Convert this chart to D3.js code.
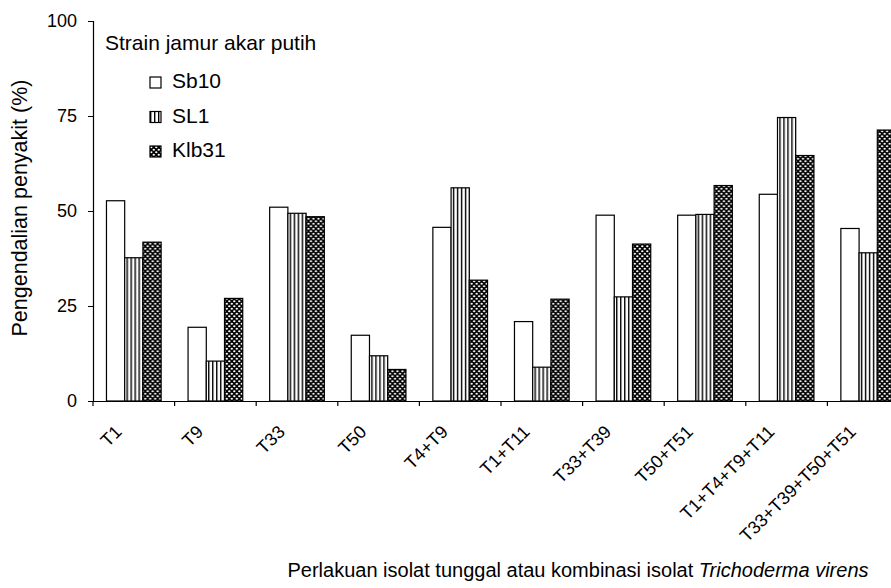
<!DOCTYPE html>
<html>
<head>
<meta charset="utf-8">
<script src="https://cdn.jsdelivr.net/npm/d3@7"></script>
<style>
  body { margin: 0; background: #fff; }
  text { font-family: "Liberation Sans", Arial, sans-serif; fill: #000; }
</style>
</head>
<body>
<div id="chart"></div>
<script>
/// Data
var treatments = ["T1", "T9", "T33", "T50", "T4+T9", "T1+T11", "T33+T39", "T50+T51", "T1+T4+T9+T11", "T33+T39+T50+T51"];
var strains = ["Sb10", "SL1", "Klb31"];
var sb10 = [52.7, 19.4, 51.0, 17.3, 45.7, 20.9, 48.9, 48.9, 54.4, 45.4];
var sl1 = [37.7, 10.5, 49.4, 11.9, 56.1, 8.9, 27.4, 49.1, 74.6, 39.0];
var klb31 = [41.8, 27.0, 48.5, 8.3, 31.8, 26.8, 41.3, 56.7, 64.6, 71.3];
var yTicks = [0, 25, 50, 75, 100];

/// SVG wrapper
var svgWidth = 891;
var svgHeight = 588;

var svg = d3.select("#chart")
    .append("svg")
    .attr("width", svgWidth)
    .attr("height", svgHeight);

/// Fill patterns
var defs = svg.append("defs");

var stripes = defs.append("pattern")
    .attr("id", "stripes")
    .attr("patternUnits", "userSpaceOnUse")
    .attr("width", 4)
    .attr("height", 4);
stripes.append("rect").attr("width", 4).attr("height", 4).attr("fill", "#fff");
stripes.append("rect").attr("x", 0).attr("width", 1.4).attr("height", 4).attr("fill", "#000");

var dots = defs.append("pattern")
    .attr("id", "dots")
    .attr("patternUnits", "userSpaceOnUse")
    .attr("width", 5)
    .attr("height", 5);
dots.append("rect").attr("width", 5).attr("height", 5).attr("fill", "#000");
dots.append("ellipse").attr("cx", 1.25).attr("cy", 1.25).attr("rx", 1.2).attr("ry", 0.9).attr("fill", "#fff");
dots.append("ellipse").attr("cx", 3.75).attr("cy", 3.75).attr("rx", 1.2).attr("ry", 0.9).attr("fill", "#fff");

var fills = {"Sb10": "#fff", "SL1": "url(#stripes)", "Klb31": "url(#dots)"};

/// Scales
var x0 = 93;
var step = 81.6;
var xScale = d3.scaleBand()
    .domain(treatments)
    .range([x0, x0 + step * treatments.length])
    .paddingInner(0.33)
    .paddingOuter(0.165);

var xSub = d3.scaleBand()
    .domain(strains)
    .range([0, xScale.bandwidth()]);

var yScale = d3.scaleLinear()
    .domain([0, 100])
    .range([401, 21]);

/// Bars
var rows = treatments.map(function(t, i) {
    return {treatment: t, values: [
        {strain: "Sb10", value: sb10[i]},
        {strain: "SL1", value: sl1[i]},
        {strain: "Klb31", value: klb31[i]}
    ]};
});

var groups = svg.selectAll(".group")
    .data(rows)
    .enter()
    .append("g")
    .attr("class", "group")
    .attr("transform", d => `translate(${xScale(d.treatment)}, 0)`);

groups.selectAll("rect")
    .data(d => d.values)
    .enter()
    .append("rect")
    .attr("x", d => xSub(d.strain))
    .attr("y", d => yScale(d.value))
    .attr("width", xSub.bandwidth())
    .attr("height", d => yScale(0) - yScale(d.value))
    .attr("fill", d => fills[d.strain])
    .attr("stroke", "#000")
    .attr("stroke-width", 1.2);

/// Y axis
var leftAxis = d3.axisLeft(yScale)
    .tickValues(yTicks)
    .tickSize(5)
    .tickPadding(11);

var yAxis = svg.append("g")
    .attr("transform", `translate(${x0}, 0)`)
    .call(leftAxis);
yAxis.select(".domain").attr("stroke", "#000").attr("stroke-width", 1.2);
yAxis.selectAll("text").style("font-size", "18px");

/// X axis
var bottomAxis = d3.axisBottom(xScale).tickSize(0);

var xAxis = svg.append("g")
    .attr("transform", `translate(0, ${yScale(0)})`)
    .call(bottomAxis);
xAxis.select(".domain").attr("stroke", "#000").attr("stroke-width", 1.2);
xAxis.selectAll("text")
    .attr("y", 0)
    .attr("dy", 0)
    .attr("text-anchor", "end")
    .attr("transform", "translate(-11, 32) rotate(-45)")
    .style("font-size", "18px");

/// Boundary ticks between groups
var bounds = d3.range(treatments.length + 1).map(i => x0 + i * step);
svg.selectAll(".btick")
    .data(bounds)
    .enter()
    .append("line")
    .attr("x1", d => d)
    .attr("x2", d => d)
    .attr("y1", yScale(0))
    .attr("y2", yScale(0) + 5)
    .attr("stroke", "#000")
    .attr("stroke-width", 1.2);

/// Axis titles
svg.append("text")
    .attr("transform", "translate(27, 208) rotate(-90)")
    .attr("text-anchor", "middle")
    .style("font-size", "21.5px")
    .text("Pengendalian penyakit (%)");

var xTitle = svg.append("text")
    .attr("x", 578)
    .attr("y", 577)
    .attr("text-anchor", "middle")
    .style("font-size", "20px");
xTitle.append("tspan").text("Perlakuan isolat tunggal atau kombinasi isolat ");
xTitle.append("tspan").style("font-style", "italic").text("Trichoderma virens");

/// Legend
svg.append("text")
    .attr("x", 105)
    .attr("y", 50)
    .style("font-size", "21px")
    .text("Strain jamur akar putih");

var legend = svg.selectAll(".legend")
    .data(strains)
    .enter()
    .append("g")
    .attr("class", "legend")
    .attr("transform", (d, i) => `translate(150, ${77 + i * 34.5})`);

legend.append("rect")
    .attr("width", 11)
    .attr("height", 11)
    .attr("fill", d => fills[d])
    .attr("stroke", "#000")
    .attr("stroke-width", 1.2);

legend.append("text")
    .attr("x", 22)
    .attr("y", 11)
    .style("font-size", "21px")
    .text(d => d);
</script>
</body>
</html>
